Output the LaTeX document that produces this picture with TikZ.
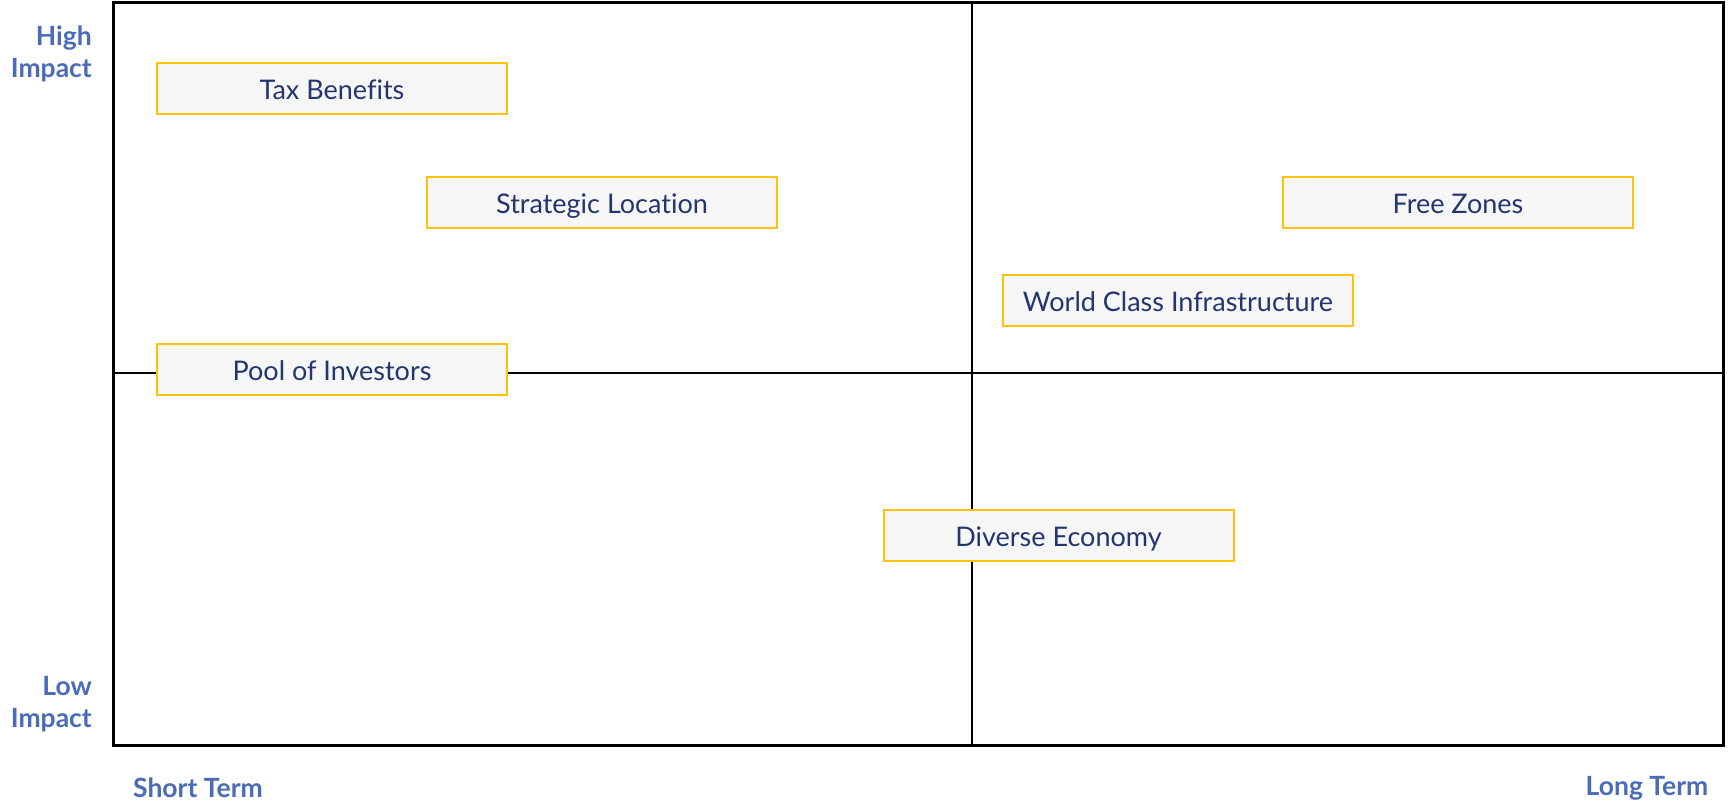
\documentclass[tikz,border=0pt]{standalone}
\usepackage{fontspec}
\setmainfont[Ligatures=CommonOff]{Lato}
\definecolor{lblblue}{HTML}{4A6BB8}
\definecolor{boxtext}{HTML}{22356E}
\definecolor{boxgold}{HTML}{FFC20E}
\definecolor{boxfill}{HTML}{F6F6F6}
\tikzset{
  itembox/.style={draw=boxgold, line width=2pt, fill=boxfill, minimum width=350pt, minimum height=51pt, inner sep=0pt, text height=22pt, text depth=0pt, text=boxtext, font=\fontsize{27}{32}\selectfont},
  axislbl/.style={text=lblblue, font=\fontsize{26.5}{32}\selectfont\bfseries, inner sep=0pt},
  frameline/.style={line width=3pt, black},
  midline/.style={line width=2.5pt, black}
}
\begin{document}
\begin{tikzpicture}[x=1pt,y=-1pt]
\useasboundingbox (0,0) rectangle (1731,803);
% frame corners
\coordinate (tl) at (113,2);
\coordinate (br) at (1723,745);
\coordinate (vt) at (972,2);
\coordinate (vb) at (972,745);
\coordinate (hl) at (113,373);
\coordinate (hr) at (1723,373);
\draw[midline] (vt) -- (vb);
\draw[midline] (hl) -- (hr);
\draw[frameline] (tl) rectangle (br);
% items
\node[itembox] (tax) at (332,88) {Tax Benefits};
\node[itembox] (strat) at (602,202.5) {Strategic Location};
\node[itembox] (free) at (1458,202.5) {Free Zones};
\node[itembox] (world) at (1178,300.5) {World Class Infrastructure};
\node[itembox] (pool) at (332,369.5) {Pool of Investors};
\node[itembox] (div) at (1058.5,535.5) {Diverse Economy};
% axis labels
\node[axislbl, align=right, anchor=east] (high) at (92,54) {High\\Impact};
\node[axislbl, align=right, anchor=east] (low) at (92,704) {Low\\Impact};
\node[axislbl] (short) at (198,788) {Short Term};
\node[axislbl] (long) at (1647,788) {Long Term};
\end{tikzpicture}
\end{document}
